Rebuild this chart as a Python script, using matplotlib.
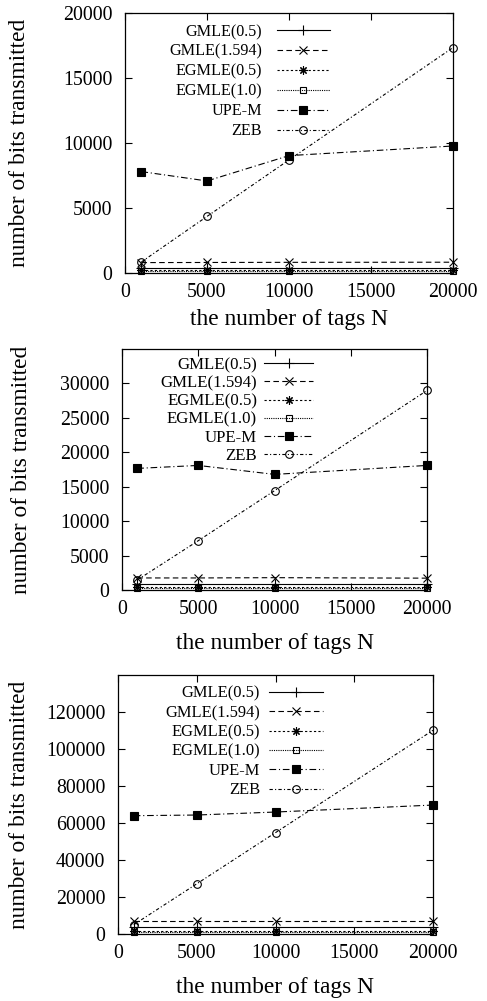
import matplotlib
matplotlib.use('Agg')
import matplotlib.pyplot as plt

plt.rcParams['font.family'] = 'Liberation Serif'
plt.rcParams['xtick.direction'] = 'in'
plt.rcParams['ytick.direction'] = 'in'
plt.rcParams['xtick.top'] = True
plt.rcParams['ytick.right'] = True

tags = [1000, 5000, 10000, 20000]
names = ['GMLE(0.5)', 'GMLE(1.594)', 'EGMLE(0.5)', 'EGMLE(1.0)', 'UPE-M', 'ZEB']

# bits transmitted, one list per scheme, for each of the three settings
bits_a = {
    'GMLE(0.5)':   [380, 380, 380, 380],
    'GMLE(1.594)': [800, 810, 820, 830],
    'EGMLE(0.5)':  [200, 200, 200, 200],
    'EGMLE(1.0)':  [120, 120, 120, 120],
    'UPE-M':       [7800, 7080, 9030, 9770],
    'ZEB':         [850, 4350, 8700, 17340],
}
bits_b = {
    'GMLE(0.5)':   [830, 830, 830, 830],
    'GMLE(1.594)': [1750, 1750, 1790, 1720],
    'EGMLE(0.5)':  [400, 400, 400, 400],
    'EGMLE(1.0)':  [260, 260, 260, 260],
    'UPE-M':       [17660, 18090, 16790, 18090],
    'ZEB':         [1450, 7160, 14420, 28980],
}
bits_c = {
    'GMLE(0.5)':   [3700, 3700, 3700, 3700],
    'GMLE(1.594)': [7190, 7190, 7190, 7190],
    'EGMLE(0.5)':  [1500, 1500, 1500, 1500],
    'EGMLE(1.0)':  [950, 950, 950, 950],
    'UPE-M':       [63950, 64310, 65930, 69700],
    'ZEB':         [5030, 27120, 54790, 110120],
}

styles = {
    'GMLE(0.5)':   dict(ls='-', marker='+', mfc='none', ms=7),
    'GMLE(1.594)': dict(ls=(0, (5, 3)), marker='x', mfc='none', ms=5.5),
    'EGMLE(0.5)':  dict(ls=(0, (2, 2)), marker=(8, 2, 0), mfc='none', ms=6),
    'EGMLE(1.0)':  dict(ls=(0, (1, 1)), marker='s', mfc='none', ms=5),
    'UPE-M':       dict(ls=(0, (6, 2.5, 1, 2.5)), marker='s', mfc='black', ms=6),
    'ZEB':         dict(ls=(0, (3, 2, 1, 2)), marker='o', mfc='none', ms=5.5),
}

W, H = 487, 1001
fig = plt.figure(figsize=(W / 100, H / 100), dpi=100)

panels = [
    # data, axes box (left, right, top, bottom) in px, y limit, y ticks,
    # legend: anchor, font size, handle length, text pad, row spacing
    (bits_a, (125, 453, 13, 273), 20000, range(0, 20001, 5000),
     (0.625, 0.958), 11.6, 3.3, 0.93, 0.24, 320, 20),
    (bits_b, (122, 427, 349, 590), 35000, range(0, 30001, 5000),
     (0.626, 0.966), 12.1, 2.9, 0.42, 0.13, 643, 22),
    (bits_c, (118, 433, 675, 934), 140000, range(0, 120001, 20000),
     (0.651, 0.958), 11.9, 3.27, 0.55, 0.20, 988, 20),
]

for (data, (l, r, t, b), ytop, yticks, anchor, lfs, hlen, hpad, lsp,
     xl_y, yl_x) in panels:
    ax = fig.add_axes([l / W, 1 - b / H, (r - l) / W, (b - t) / H])
    for name in names:
        st = styles[name]
        ax.plot(tags, data[name], color='black', lw=0.8, ls=st['ls'],
                marker=st['marker'], ms=st['ms'], mfc=st['mfc'], mec='black',
                mew=0.8, label=name, clip_on=False)
    ax.set_xlim(0, 20000)
    ax.set_ylim(0, ytop)
    ax.set_xticks(range(0, 20001, 5000))
    ax.set_yticks(list(yticks))
    ax.tick_params(labelsize=14.3, length=5, width=0.8, pad=7)
    ax.tick_params(axis='y', pad=9)
    for sp in ax.spines.values():
        sp.set_linewidth(0.9)
    ax.legend(loc='upper right', bbox_to_anchor=anchor, markerfirst=False,
              frameon=False, fontsize=lfs, handlelength=hlen,
              handletextpad=hpad, labelspacing=lsp, borderpad=0,
              borderaxespad=0, numpoints=1)
    fig.text(((l + r) / 2) / W, 1 - xl_y / H, 'the number of tags N',
             fontsize=16.8, ha='center', va='center')
    fig.text(yl_x / W, 1 - ((t + b) / 2) / H, 'number of bits transmitted',
             fontsize=16.8, ha='center', va='center', rotation=90)

fig.savefig('out.png', dpi=100)
